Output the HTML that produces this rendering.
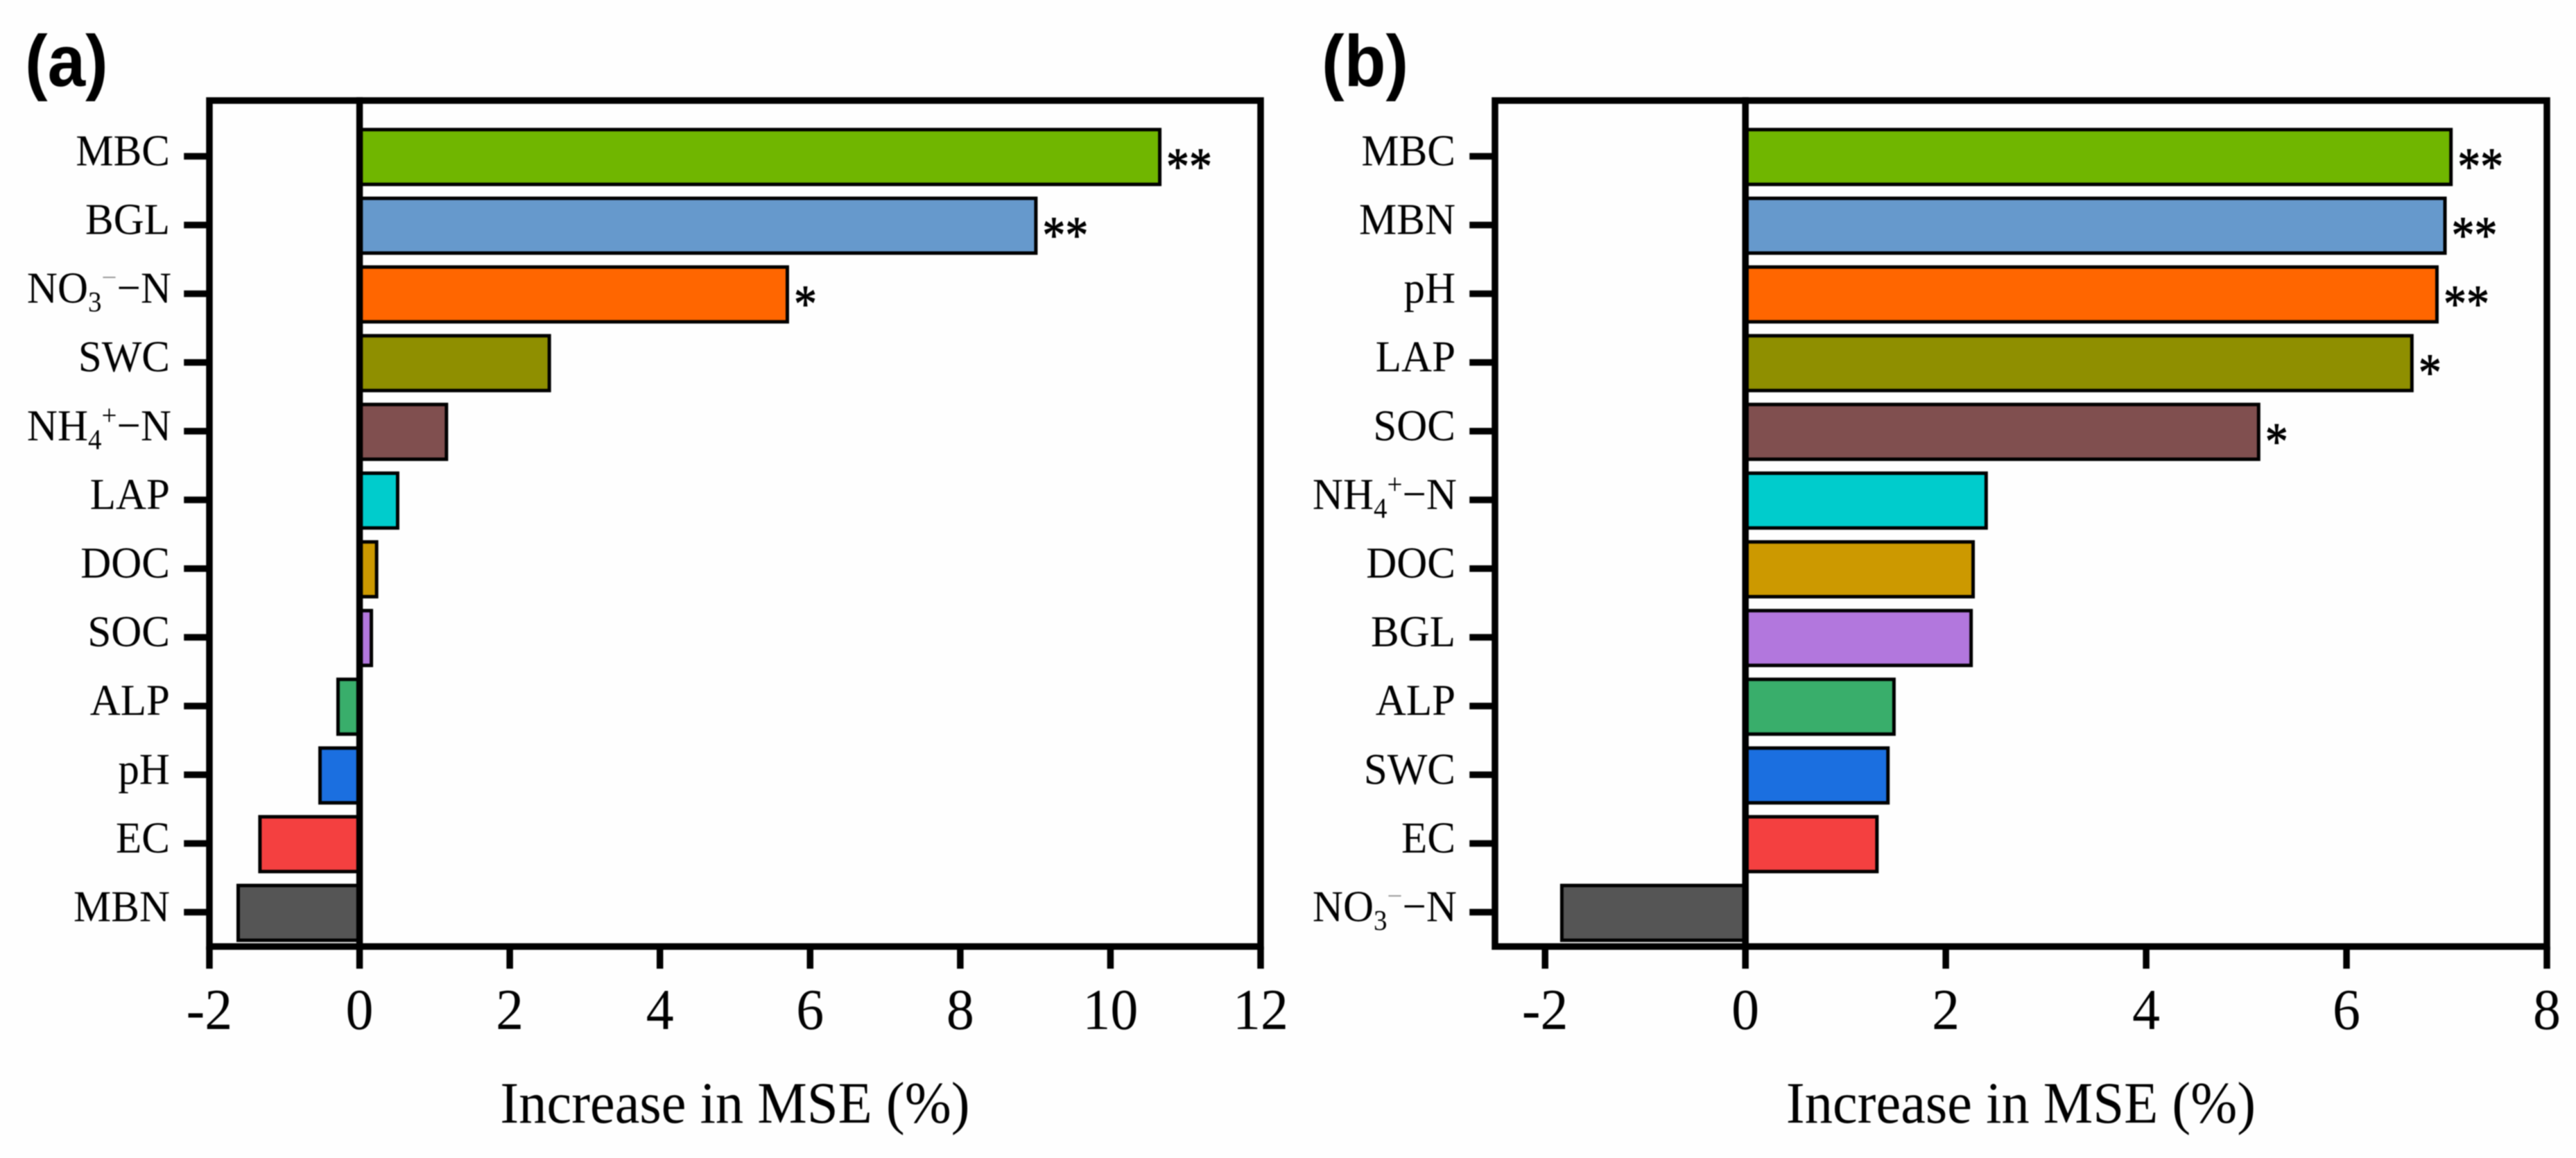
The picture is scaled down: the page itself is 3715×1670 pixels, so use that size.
<!DOCTYPE html>
<html lang="en">
<head>
<meta charset="utf-8">
<title>Increase in MSE bar charts</title>
<style>
  html, body { margin: 0; padding: 0; background: #fefefe; }
  svg { display: block; filter: blur(0.8px); }
  text { font-family: "Liberation Serif", serif; fill: #000; }
  .panel-letter { font-family: "Liberation Sans", sans-serif; font-weight: 700; font-size: 98px; }
</style>
</head>
<body>
<svg id="chart" xmlns="http://www.w3.org/2000/svg" width="3715" height="1670" viewBox="0 0 3715 1670">
  <rect x="0" y="0" width="3715" height="1670" fill="#fefefe"/>
  <text class="panel-letter" x="36" y="124" transform="translate(0 124) scale(1 1.07) translate(0 -124)">(a)</text>
  <text class="panel-letter" x="1906" y="124" transform="translate(0 124) scale(1 1.07) translate(0 -124)">(b)</text>
</svg>
<script>
// Panel (a) data
const categoriesA = ['MBC', 'BGL', 'NO3-N', 'SWC', 'NH4-N', 'LAP', 'DOC', 'SOC', 'ALP', 'pH', 'EC', 'MBN'];
const valuesA = [10.68, 9.03, 5.72, 2.55, 1.18, 0.53, 0.25, 0.18, -0.31, -0.55, -1.35, -1.64];
const starsA = ['**', '**', '*', '', '', '', '', '', '', '', '', ''];
const ticksA = [-2, 0, 2, 4, 6, 8, 10, 12];

// Panel (b) data
const categoriesB = ['MBC', 'MBN', 'pH', 'LAP', 'SOC', 'NH4-N', 'DOC', 'BGL', 'ALP', 'SWC', 'EC', 'NO3-N'];
const valuesB = [7.06, 7.0, 6.92, 6.67, 5.14, 2.42, 2.29, 2.27, 1.5, 1.44, 1.33, -1.85];
const starsB = ['**', '**', '**', '*', '*', '', '', '', '', '', '', ''];
const ticksB = [-2, 0, 2, 4, 6, 8];

const axisTitle = 'Increase in MSE (%)';
const barColors = ['#70b600', '#6699cc', '#ff6600', '#8f8f00', '#804f4f', '#00cccc', '#cc9900', '#b277dd', '#39ae6b', '#1b6fe0', '#f44040', '#555555'];

const SVG_NS = 'http://www.w3.org/2000/svg';
const svg = document.getElementById('chart');

function make(tag, attrs, parent) {
  const el = document.createElementNS(SVG_NS, tag);
  for (const k in attrs) el.setAttribute(k, attrs[k]);
  parent.appendChild(el);
  return el;
}

function stretch(y, k) {
  return 'translate(0 ' + y + ') scale(1 ' + k + ') translate(0 ' + (-y) + ')';
}

// Chemical labels: [text, baseline offset, size ratio, fill]
function labelParts(name) {
  if (name === 'NO3-N') return [['NO', 0, 1, '#000'], ['3', 12, 0.64, '#000'], ['\u2212', -22, 0.64, '#999'], ['\u2212N', 0, 1, '#000']];
  if (name === 'NH4-N') return [['NH', 0, 1, '#000'], ['4', 12, 0.64, '#000'], ['+', -21, 0.64, '#000'], ['\u2212N', 0, 1, '#000']];
  return [[name, 0, 1, '#000']];
}

function drawPanel(p) {
  const group = make('g', {}, svg);
  
  

  const top = 145, bottom = 1365, bandTop = 225.4, band = 99.1, barH = 84, sw = 5, axisW = 9.5, tickLen = 32;
  const ppu = (p.right - p.left) / (p.xMax - p.xMin);
  const xScale = v => p.left + (v - p.xMin) * ppu;
  const yScale = i => bandTop + i * band;
  const zero = xScale(0);

  // Bars
  p.categories.forEach((cat, i) => {
    const v = p.values[i];
    const end = xScale(v);
    const cy = yScale(i) + 1;
    const x0 = Math.min(zero, end), x1 = Math.max(zero, end);
    const bar = make('rect', {
      x: (v >= 0 ? x0 : x0 + sw / 2),
      y: cy - barH / 2 + sw / 2,
      width: Math.max(0, x1 - x0 - sw / 2),
      height: barH - sw,
      fill: barColors[i],
      stroke: '#000',
      'stroke-width': sw
    }, group);
    
    

    if (p.stars[i]) {
      const starY = yScale(i) + 40;
      const star = make('text', { x: end + 7, y: starY, 'font-size': 66, stroke: '#000', 'stroke-width': 0.9, transform: stretch(starY, 1.15) }, group);
      
      
      star.textContent = p.stars[i];
    }

    // Category tick
    const tick = make('rect', { x: p.left - tickLen - axisW / 2, y: yScale(i) - axisW / 2, width: tickLen + axisW / 2, height: axisW, fill: '#000' }, group);
    
    

    // Category label
    const parts = labelParts(cat);
    const labelY = yScale(i) + 13;
    const labelX = p.left - 57 + (parts.length > 1 ? 2 : 0);
    const label = make('text', { x: labelX, y: labelY, 'font-size': 61, 'text-anchor': 'end', transform: stretch(labelY, 1.05) }, group);
    
    
    let prev = 0;
    parts.forEach(part => {
      const span = make('tspan', { dy: part[1] - prev, 'font-size': 61 * part[2], fill: part[3] }, label);
      span.textContent = part[0];
      prev = part[1];
    });
  });

  // Zero line
  const zeroLine = make('rect', { x: zero - axisW / 2, y: top - axisW / 2, width: axisW, height: bottom - top + axisW, fill: '#000' }, group);
  
  

  // Plot frame
  const frame = make('rect', { x: p.left, y: top, width: p.right - p.left, height: bottom - top, fill: 'none', stroke: '#000', 'stroke-width': axisW }, group);
  
  

  // X ticks and labels
  p.ticks.forEach(t => {
    const x = xScale(t);
    const tick = make('rect', { x: x - axisW / 2, y: bottom, width: axisW, height: tickLen, fill: '#000' }, group);
    
    
    const label = make('text', { x: x, y: 1484, 'font-size': 80, 'text-anchor': 'middle', transform: stretch(1484, 1.05) }, group);
    
    
    label.textContent = String(t);
  });

  // Axis title
  const title = make('text', { x: (p.left + p.right) / 2, y: 1619, 'font-size': 80.5, 'text-anchor': 'middle', transform: stretch(1619, 1.05) }, group);
  
  
  title.textContent = axisTitle;
}

drawPanel({ id: 'panel-a-chart', left: 302, right: 1818, xMin: -2, xMax: 12, categories: categoriesA, values: valuesA, stars: starsA, ticks: ticksA });
drawPanel({ id: 'panel-b-chart', left: 2156, right: 3673, xMin: -2.5, xMax: 8, categories: categoriesB, values: valuesB, stars: starsB, ticks: ticksB });
</script>
</body>
</html>
